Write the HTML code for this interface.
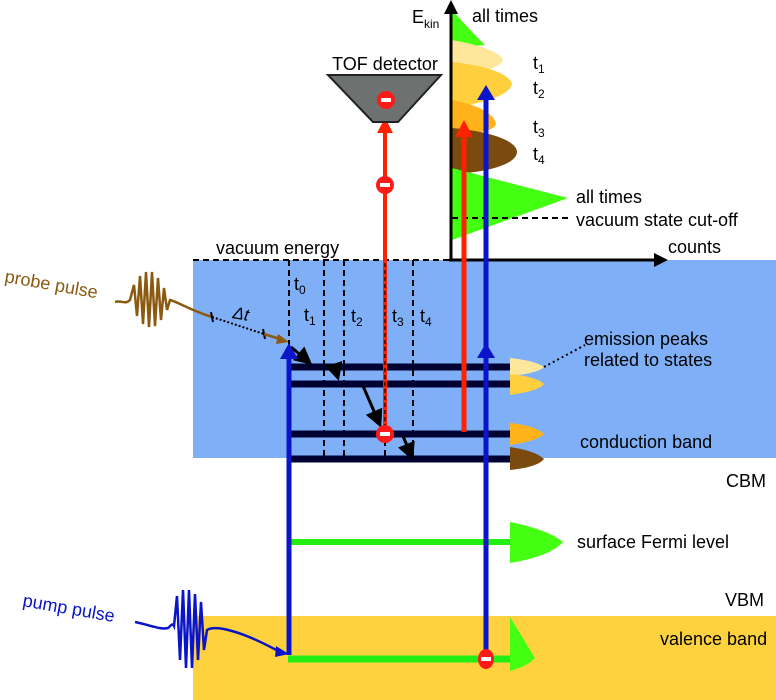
<!DOCTYPE html>
<html><head><meta charset="utf-8"><style>
html,body{margin:0;padding:0;background:#fff;}
svg{display:block;font-family:"Liberation Sans","DejaVu Sans",sans-serif;}
</style></head><body>
<svg width="776" height="700" viewBox="0 0 776 700" xmlns="http://www.w3.org/2000/svg">
<defs>
<marker id="ab" markerWidth="6" markerHeight="6" refX="5" refY="3" orient="auto" markerUnits="strokeWidth"><path d="M0,0 L6,3 L0,6 z" fill="#000"/></marker>
</defs>
<rect x="193" y="260" width="583" height="198" fill="#7fb0f7"/>
<rect x="193" y="616" width="583" height="84" fill="#fdd23e"/>

<path d="M452,10 C470,30 478,38 485,45 L452,48 z" fill="#44ff11"/>
<path d="M452,40 C480,45 500,52 503,60 C500,68 480,74 452,76 z" fill="#fee79a"/>
<path d="M452,62 C490,66 510,75 512,84 C510,94 490,102 452,108 z" fill="#ffcf3e"/>
<path d="M452,100 C480,105 495,115 496,124 C495,130 480,134 452,134 z" fill="#ffb21a"/>
<path d="M452,128 C495,132 517,142 517,152 C517,162 495,172 452,174 z" fill="#7a4a0e"/>
<path d="M452,168 L568,198 L452,240 z" fill="#44ff11"/>
<line x1="452" y1="218" x2="568" y2="218" stroke="#000" stroke-width="2" stroke-dasharray="6,4"/>

<line x1="451" y1="260" x2="451" y2="12" stroke="#000" stroke-width="3"/>
<path d="M444,14 L451,0 L458,14 z" fill="#000"/>
<line x1="449" y1="260" x2="656" y2="260" stroke="#000" stroke-width="3"/>
<path d="M654,253 L668,260 L654,267 z" fill="#000"/>
<line x1="193" y1="260" x2="449" y2="260" stroke="#000" stroke-width="2" stroke-dasharray="6,4"/>

<g stroke="#000" stroke-width="2" stroke-dasharray="6,4">
<line x1="289" y1="260" x2="289" y2="458"/>
<line x1="324" y1="260" x2="324" y2="458"/>
<line x1="344" y1="260" x2="344" y2="458"/>
<line x1="385" y1="260" x2="385" y2="458"/>
<line x1="413" y1="260" x2="413" y2="458"/>
</g>

<g stroke="#000033" stroke-width="7">
<line x1="291" y1="367" x2="510" y2="367"/>
<line x1="291" y1="384" x2="510" y2="384"/>
<line x1="291" y1="434" x2="510" y2="434"/>
<line x1="291" y1="459" x2="510" y2="459"/>
</g>
<path d="M510,358 C530,360 540,364 544,367 C540,371 530,374 510,376 z" fill="#fee79a"/>
<path d="M510,374 C530,376 540,380 544,384 C540,389 530,392 510,395 z" fill="#ffcf3e"/>
<path d="M510,423 C530,425 540,430 544,434 C540,438 530,442 510,445 z" fill="#ffb21a"/>
<path d="M510,447 C530,450 540,455 544,459 C540,464 530,468 510,470 z" fill="#7a4a0e"/>
<line x1="544" y1="367" x2="585" y2="345" stroke="#000" stroke-width="2" stroke-dasharray="2,3"/>

<g stroke="#000" stroke-width="3" marker-end="url(#ab)">
<line x1="291" y1="347" x2="310" y2="363"/>
<line x1="335" y1="368" x2="338" y2="378"/>
<line x1="363" y1="386" x2="380" y2="425"/>
<line x1="403" y1="436" x2="412" y2="458"/>
</g>

<line x1="290" y1="542" x2="512" y2="542" stroke="#22ee11" stroke-width="6"/>
<path d="M510,522 C540,528 556,536 563,542 C556,550 540,558 510,563 z" fill="#44ff11"/>
<line x1="288" y1="659" x2="512" y2="659" stroke="#22ee11" stroke-width="7"/>
<path d="M510,617 L535,658 C530,664 520,668 510,671 z" fill="#44ff11"/>

<line x1="289" y1="655" x2="289" y2="355" stroke="#0a14c8" stroke-width="5"/>
<path d="M280,359 L289,343 L298,359 z" fill="#0a14c8"/>
<line x1="486" y1="657" x2="486" y2="95" stroke="#0a14c8" stroke-width="5"/>
<path d="M477,358 L486,343 L495,358 z" fill="#0a14c8"/>
<path d="M477,100 L486,85 L495,100 z" fill="#0a14c8"/>

<line x1="385" y1="435" x2="385" y2="128" stroke="#ff2200" stroke-width="4"/>
<line x1="385" y1="435" x2="385" y2="260" stroke="#000" stroke-width="1.2" stroke-dasharray="4,3"/>
<path d="M377,133 L385,118 L393,133 z" fill="#ff2200"/>
<line x1="464" y1="432" x2="464" y2="132" stroke="#ff2200" stroke-width="5"/>
<path d="M455,137 L464,120 L473,137 z" fill="#ff2200"/>

<path d="M328,75 L441,75 L398,122 L373,122 z" fill="#6d716f" stroke="#222" stroke-width="2"/>
<text x="385" y="70" font-size="18" text-anchor="middle">TOF detector</text>

<g>
<circle cx="386" cy="100" r="9" fill="#ff1a1a"/><rect x="381" y="98" width="10" height="4" fill="#fff"/>
<circle cx="385" cy="185" r="9" fill="#ff1a1a"/><rect x="380" y="183" width="10" height="4" fill="#fff"/>
<circle cx="385" cy="434" r="9" fill="#ff1a1a"/><rect x="380" y="432" width="10" height="4" fill="#fff"/>
<ellipse cx="486" cy="659" rx="8" ry="10" fill="#ff1a1a"/><rect x="481" y="657" width="10" height="4" fill="#fff"/>
</g>

<path d="M115,302 C122,300 125,305 130,300 L134,285 L137,316 L140,276 L143,324 L146,272 L149,327 L152,272 L155,326 L158,278 L161,320 L164,288 L167,310 L170,300 C178,302 190,310 212,317" fill="none" stroke="#8a5a10" stroke-width="2.5"/>
<line x1="212" y1="317" x2="264" y2="334" stroke="#000" stroke-width="2" stroke-dasharray="2,2"/>
<line x1="211" y1="312" x2="213" y2="322" stroke="#000" stroke-width="2"/>
<line x1="263" y1="329" x2="265" y2="339" stroke="#000" stroke-width="2"/>
<line x1="264" y1="334" x2="280" y2="339" stroke="#8a5a10" stroke-width="2.5"/>
<path d="M278,334 L289,342 L276,344 z" fill="#8a5a10"/>
<text x="0" y="0" font-size="18" fill="#8a5a10" transform="translate(4,282) rotate(10)">probe pulse</text>
<text x="0" y="0" font-size="17" font-style="italic" transform="translate(232,318) rotate(10)">Δt</text>

<path d="M135,622 C150,625 160,630 168,628 C170,627 172,622 174,626 L177,596 L180,660 L183,590 L186,668 L189,590 L192,668 L195,594 L198,660 L201,602 L204,650 L207,630 C215,625 240,630 280,652" fill="none" stroke="#0a14c8" stroke-width="2.5"/>
<path d="M276,646 L289,654 L275,657 z" fill="#0a14c8"/>
<text x="0" y="0" font-size="18" fill="#0a14c8" transform="translate(22,606) rotate(10)">pump pulse</text>

<g font-size="18">
<text x="216" y="254">vacuum energy</text>
<text x="294" y="290">t<tspan font-size="12" dy="4">0</tspan></text>
<text x="304" y="321">t<tspan font-size="12" dy="4">1</tspan></text>
<text x="351" y="322">t<tspan font-size="12" dy="4">2</tspan></text>
<text x="392" y="322">t<tspan font-size="12" dy="4">3</tspan></text>
<text x="420" y="322">t<tspan font-size="12" dy="4">4</tspan></text>
<text x="412" y="23">E<tspan font-size="12" dy="5">kin</tspan></text>
<text x="472" y="22">all times</text>
<text x="533" y="69">t<tspan font-size="12" dy="4">1</tspan></text>
<text x="533" y="94">t<tspan font-size="12" dy="4">2</tspan></text>
<text x="533" y="133">t<tspan font-size="12" dy="4">3</tspan></text>
<text x="533" y="160">t<tspan font-size="12" dy="4">4</tspan></text>
<text x="576" y="203">all times</text>
<text x="576" y="226">vacuum state cut-off</text>
<text x="668" y="253">counts</text>
<text x="584" y="345">emission peaks</text>
<text x="584" y="366">related to states</text>
<text x="580" y="448">conduction band</text>
<text x="726" y="487">CBM</text>
<text x="577" y="548">surface Fermi level</text>
<text x="725" y="606">VBM</text>
<text x="660" y="645">valence band</text>
</g>
</svg>
</body></html>
